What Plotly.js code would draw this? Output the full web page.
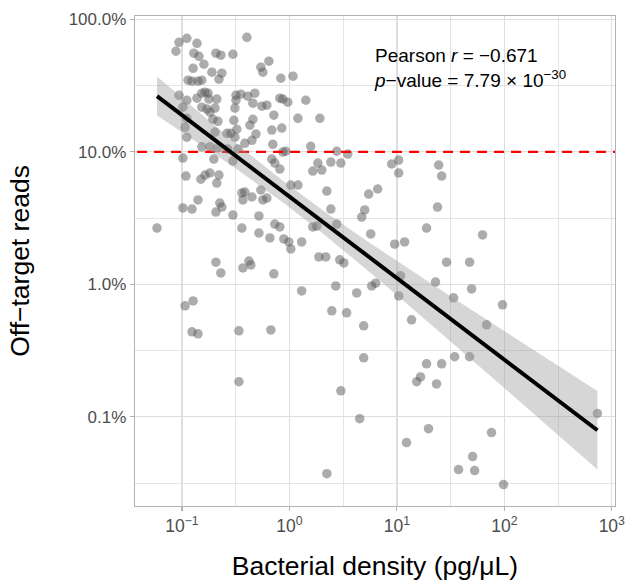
<!DOCTYPE html>
<html>
<head>
<meta charset="utf-8">
<script src="https://cdn.plot.ly/plotly-3.0.1.min.js"></script>
<style>html,body{margin:0;padding:0;background:#fff;}#chart{width:630px;height:585px;}</style>
</head>
<body>
<div id="chart"></div>
<script>
// Bacterial density (pg/uL)
const density = [
0.402,0.0938,0.111,0.138,0.0879,0.129,0.144,0.207,0.230,0.298,
0.644,0.160,0.127,0.542,0.566,0.190,0.235,0.221,0.832,1.08,
0.114,0.124,0.141,0.153,0.0938,0.111,0.138,0.153,0.164,0.175,
0.178,0.211,0.318,0.353,0.410,0.477,0.457,0.318,0.554,0.617,
0.814,0.868,0.966,1.42,0.153,0.171,0.182,0.203,0.311,0.102,
0.111,0.716,1.20,1.92,0.194,0.216,0.304,0.457,0.429,0.107,
0.324,0.285,0.262,0.203,0.686,0.849,0.488,0.111,0.311,0.385,
0.448,0.701,1.58,0.153,0.182,0.216,0.267,0.331,0.868,0.926,
2.76,3.49,0.102,0.198,0.298,0.686,0.731,0.814,1.84,2.43,
3.01,1.65,2.00,8.95,10.4,24.5,10.4,26.1,0.109,0.150,
0.164,0.182,0.221,0.211,1.03,1.20,2.23,5.47,6.63,0.361,
0.385,0.448,0.369,0.542,0.566,0.617,0.141,0.102,0.124,0.225,
0.235,0.207,2.43,5.02,4.71,0.298,0.520,0.0586,0.361,0.731,
0.814,0.520,1.65,1.80,2.76,5.71,0.658,0.887,0.987,1.03,
1.30,23.9,18.9,9.55,11.8,62.7,0.207,0.420,0.438,0.369,
0.230,0.716,1.88,2.18,2.94,3.21,29.0,47.5,10.8,22.9,
2.70,1.30,4.23,5.83,6.35,10.4,33.7,49.6,96.2,0.107,
0.127,2.48,3.41,13.7,4.91,68.4,0.124,0.141,0.339,0.672,
4.91,18.9,26.1,34.5,47.5,16.6,15.3,23.4,0.339,3.01,
735,4.51,19.7,12.3,76.0,50.7,37.5,52.9,98.3,2.23
];
// Off-target reads (%)
const offTarget = [
73.2,67.1,71.9,65.9,57.4,55.5,52.6,55.5,53.6,54.5,
48.3,45.8,42.7,43.5,39.9,39.9,39.2,35.3,35.9,37.2,
34.7,34.1,34.1,34.7,26.7,24.5,25.4,27.7,28.2,27.7,
25.0,25.0,26.7,27.2,26.3,27.7,23.3,24.5,22.1,22.5,
25.4,25.0,23.7,24.5,21.7,21.0,19.9,21.4,21.4,21.7,
17.9,18.9,17.9,17.9,17.6,17.0,17.3,17.6,15.9,15.3,
14.8,13.8,13.8,14.1,14.6,15.1,13.6,12.9,12.9,11.6,
12.2,11.4,11.0,10.9,10.9,10.7,10.5,10.5,9.96,10.1,
10.1,9.62,8.97,8.81,8.51,8.81,8.22,7.41,8.22,8.37,
8.22,7.16,7.28,8.09,8.67,7.94,6.92,6.56,6.56,6.22,
6.67,6.92,6.67,5.81,5.61,5.61,5.06,4.80,5.24,4.89,
4.97,4.56,4.33,5.15,4.33,4.48,4.33,3.77,3.70,4.10,
3.83,3.51,3.70,3.64,3.22,3.33,3.28,2.66,2.66,2.85,
2.71,2.44,2.71,2.75,2.85,2.40,2.24,2.20,2.09,1.85,
2.09,3.83,2.66,2.01,2.09,2.36,1.47,1.50,1.40,1.33,
1.22,1.20,1.61,1.61,1.53,1.45,1.47,1.47,1.16,1.04,
0.973,0.891,0.861,0.973,1.02,0.818,0.791,0.923,0.700,0.688,
0.750,0.631,0.610,0.540,0.486,0.495,0.438,0.423,0.446,0.453,
0.279,0.251,0.251,0.284,0.284,0.200,0.184,0.177,0.184,0.157,
0.106,0.0968,0.0814,0.0639,0.0760,0.0501,0.0400,0.0393,0.0308,0.0372
];
const threshold = 10; // percent
const xTickVals = [0.1, 1, 10, 100, 1000];
const xTickText = ['10<sup>\u22121</sup>', '10<sup>0</sup>', '10<sup>1</sup>', '10<sup>2</sup>', '10<sup>3</sup>'];
const yTickVals = [0.1, 1, 10, 100];
const yTickText = ['0.1%', '1.0%', '10.0%', '100.0%'];
const xMinor = [0.0316, 0.316, 3.16, 31.6, 316];
const yMinor = [0.0316, 0.316, 3.16, 31.6];
const statText = 'Pearson <i>r</i> = \u22120.671<br><i>p</i>\u2212value = 7.79 \u00d7 10<sup>\u221230</sup>';

// linear regression in log-log space with 95% confidence band
const lx = density.map(v => Math.log10(v));
const ly = offTarget.map(v => Math.log10(v));
const n = lx.length;
const mx = lx.reduce((a, b) => a + b, 0) / n;
const my = ly.reduce((a, b) => a + b, 0) / n;
let sxx = 0, sxy = 0;
for (let i = 0; i < n; i++) { sxx += (lx[i] - mx) ** 2; sxy += (lx[i] - mx) * (ly[i] - my); }
const slope = sxy / sxx;
const icpt = my - slope * mx;
let sse = 0;
for (let i = 0; i < n; i++) { sse += (ly[i] - (icpt + slope * lx[i])) ** 2; }
const se = Math.sqrt(sse / (n - 2));
const tval = 1.972;
const xmin = Math.min(...lx), xmax = Math.max(...lx);
const fx = [], fy = [], lo = [], hi = [];
for (let k = 0; k <= 80; k++) {
  const x = xmin + (xmax - xmin) * k / 80;
  const yhat = icpt + slope * x;
  const h = tval * se * Math.sqrt(1 / n + (x - mx) ** 2 / sxx);
  fx.push(10 ** x); fy.push(10 ** yhat); lo.push(10 ** (yhat - h)); hi.push(10 ** (yhat + h));
}

const font = 'Liberation Sans, Arial, Helvetica, sans-serif';
const traces = [
  {x: density, y: offTarget, type: 'scatter', mode: 'markers',
   marker: {size: 9.5, color: 'rgba(90,90,90,0.5)', line: {width: 0}}, hoverinfo: 'skip'},
  {x: [0.001, 100000], y: [threshold, threshold], type: 'scatter', mode: 'lines',
   line: {color: '#ff0000', width: 2.2, dash: '10px,7px'}, hoverinfo: 'skip'},
  {x: fx, y: lo, type: 'scatter', mode: 'lines', line: {width: 0, color: 'rgba(0,0,0,0)'}, hoverinfo: 'skip'},
  {x: fx, y: hi, type: 'scatter', mode: 'lines', fill: 'tonexty', fillcolor: 'rgba(153,153,153,0.4)',
   line: {width: 0, color: 'rgba(0,0,0,0)'}, hoverinfo: 'skip'},
  {x: fx, y: fy, type: 'scatter', mode: 'lines', line: {color: '#000000', width: 4}, hoverinfo: 'skip'}
];

const layout = {
  width: 630, height: 585,
  margin: {l: 135, r: 15, t: 16, b: 79},
  paper_bgcolor: '#ffffff', plot_bgcolor: '#ffffff',
  showlegend: false,
  font: {family: font, color: '#000000'},
  xaxis: {
    type: 'log', range: [-1.437, 3.03],
    tickmode: 'array', tickvals: xTickVals, ticktext: xTickText,
    tickfont: {size: 17.5, color: '#4d4d4d'},
    ticks: 'outside', ticklen: 4, tickwidth: 1.2, tickcolor: '#b3b3b3',
    showgrid: true, gridcolor: '#dedede', gridwidth: 1.3,
    minor: {tickmode: 'array', tickvals: xMinor, showgrid: true, gridcolor: '#e4e4e4', gridwidth: 1, ticks: ''},
    showline: true, linecolor: '#b3b3b3', linewidth: 1.3, mirror: true,
    zeroline: false,
    title: {text: 'Bacterial density (pg/\u03bcL)', font: {size: 26.5, color: '#000000'}, standoff: 21}
  },
  yaxis: {
    type: 'log', range: [-1.673, 2.025],
    tickmode: 'array', tickvals: yTickVals, ticktext: yTickText,
    tickfont: {size: 17, color: '#4d4d4d'},
    ticks: 'outside', ticklen: 4, tickwidth: 1.2, tickcolor: '#b3b3b3',
    showgrid: true, gridcolor: '#dedede', gridwidth: 1.3,
    minor: {tickmode: 'array', tickvals: yMinor, showgrid: true, gridcolor: '#e4e4e4', gridwidth: 1, ticks: ''},
    showline: true, linecolor: '#b3b3b3', linewidth: 1.3, mirror: true,
    zeroline: false,
    title: {text: 'Off\u2212target reads', font: {size: 26.5, color: '#000000'}, standoff: 31}
  },
  annotations: [{
    xref: 'paper', yref: 'paper', x: 0.494, y: 0.945, xanchor: 'left', yanchor: 'top',
    text: statText, showarrow: false, align: 'left',
    font: {size: 19, color: '#000000', family: font}
  }]
};

Plotly.newPlot('chart', traces, layout, {displayModeBar: false, staticPlot: true});
</script>
</body>
</html>
